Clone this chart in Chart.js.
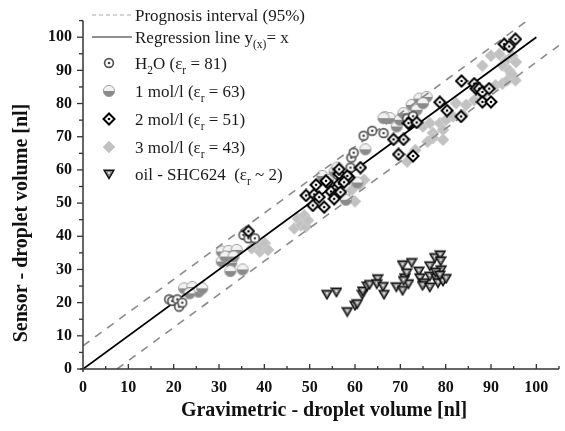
<!DOCTYPE html>
<html><head><meta charset="utf-8">
<script src="https://cdn.jsdelivr.net/npm/chart.js@4/dist/chart.umd.min.js"></script>
<style>html,body{margin:0;padding:0;background:#fff}#wrap{width:565px;height:431px;position:relative}</style>
</head><body><div id="wrap"><canvas id="c" width="565" height="431"></canvas></div>
<script>
// ---------- DATA ----------
const xTickValues = [0,10,20,30,40,50,60,70,80,90,100];
const yTickValues = [0,10,20,30,40,50,60,70,80,90,100];
const xAxisTitle = 'Gravimetric - droplet volume [nl]';
const yAxisTitle = 'Sensor - droplet volume [nl]';

const h2o = [[19.0,21.0],[19.7,20.5],[20.8,21.0],[21.2,18.8],[21.9,20.0],
  [35.4,40.4],[36.5,39.4],[37.9,39.4],
  [56.2,58.5],[57.3,57.2],[59.0,60.7],[59.2,63.7],[59.7,65.2],
  [61.9,70.3],[63.8,71.8],[66.3,71.1],[71.5,75.5],[72.8,76.2]];
const mol1 = [[22.3,24.3],[24.1,24.7],[25.5,23.3],[26.3,24.3],[23.5,22.8],
  [30.6,35.4],[32.1,35.6],[33.9,35.9],[30.6,32.4],[32.7,32.0],[32.5,29.5],[35.2,30.0],[31.4,33.9],[33.2,33.9],
  [52.8,58.2],[54.0,57.0],[55.5,59.5],[56.1,60.7],[57.6,52.3],[58.0,51.0],[60.5,56.2],[62.3,66.2],
  [66.6,75.9],[67.7,75.6],[69.2,73.1],[69.9,75.1],[70.7,77.1],[72.5,79.6],[73.6,78.1],[74.2,81.5],[75.8,82.0],[75.0,80.1],[66.3,75.6]];
const mol2 = [[36.5,41.5],
  [49.2,52.3],[51.0,52.6],[51.4,55.5],[54.7,53.5],[56.5,58.8],[56.5,55.8],[58.7,57.7],[61.2,60.7],[53.9,56.2],[56.5,60.2],
  [58.3,58.2],[55.7,52.4],[53.6,56.7],[56.8,53.3],[55.4,51.3],[52.1,51.8],[50.7,49.3],[53.2,48.8],[57.6,56.3],
  [69.6,64.7],[72.8,64.2],[72.0,73.9],[70.7,69.2],[68.5,69.2],[71.8,74.1],[73.6,74.3],[78.7,80.4],[80.3,77.9],
  [83.5,86.8],[86.3,86.0],[86.7,84.5],[87.4,84.5],[88.1,83.5],[89.6,84.5],[88.1,80.5],[90.0,80.5],[83.4,76.1],
  [92.9,97.9],[94.0,97.2],[95.4,99.4]];
const mol3 = [[37.2,36.4],[38.3,38.4],[39.0,35.4],[39.4,36.9],[40.1,37.9],[40.8,35.9],
  [46.6,42.4],[47.4,45.3],[48.1,43.3],[48.8,46.3],[49.2,42.9],[49.6,44.8],
  [57.5,52.0],[59.3,54.0],[61.0,55.5],[60.0,50.5],[62.0,57.0],
  [71.5,62.5],[72.5,64.5],[73.3,66.0],
  [75.0,73.1],[76.5,74.1],[77.2,71.1],[78.7,74.1],[79.4,72.1],[80.1,75.1],[81.6,76.1],[77.2,69.6],[79.4,69.1],[76.0,68.5],
  [82.3,80.1],[83.8,76.6],[84.5,79.6],[86.3,81.0],[88.1,82.5],[88.9,84.0],[91.0,85.5],[92.5,86.0],[93.6,87.0],[95.4,87.0],
  [88.1,91.4],[90.0,94.4],[91.8,94.9],[93.2,92.9],[94.7,94.4],[94.0,90.0],[92.5,91.5],[95.5,92.5],[94.5,89.0]];
const oil = [[53.8,22.5],[55.9,23.2],[58.3,17.3],[60.0,19.2],[60.5,19.7],[61.6,22.5],[61.7,23.5],[62.7,25.0],[63.2,25.5],
  [65.0,27.2],[64.8,25.7],[66.2,24.9],[66.4,22.5],[69.1,24.8],[70.5,31.4],[72.5,32.1],[70.5,23.7],[71.0,27.5],[71.4,29.0],
  [71.8,25.7],[70.7,26.7],[74.1,29.5],[74.3,27.5],[75.2,26.0],[74.9,25.2],[76.5,31.1],[77.6,33.6],[78.8,34.4],[78.9,32.6],
  [76.5,24.7],[76.5,28.0],[77.9,27.5],[78.3,26.0],[79.0,29.9],[79.4,26.5],[80.1,27.3],[77.8,29.2],[78.7,28.3]];
const regressionLine = [[0,0],[100,100]];
const upperBound = [[0,7],[98,105]];
const lowerBound = [[7.5,0],[105,97.5]];

const legendRows = [
  {kind:'dash',  parts:[['Prognosis interval (95%)','n']]},
  {kind:'solid', parts:[['Regression line y','n'],['(x)','s'],['= x','n']]},
  {kind:'h2o',   parts:[['H','n'],['2','s'],['O (ε','n'],['r','s'],[' = 81)','n']]},
  {kind:'mol1',  parts:[['1 mol/l (ε','n'],['r','s'],[' = 63)','n']]},
  {kind:'mol2',  parts:[['2 mol/l (ε','n'],['r','s'],[' = 51)','n']]},
  {kind:'mol3',  parts:[['3 mol/l (ε','n'],['r','s'],[' = 43)','n']]},
  {kind:'oil',   parts:[['oil - SHC624  (ε','n'],['r','s'],[' ~ 2)','n']]}
];

// ---------- MARKERS ----------
function mk(w,h,draw){const c=document.createElement('canvas');c.width=w;c.height=h;const g=c.getContext('2d');g.translate(w/2,h/2);draw(g);return c;}
const markers = {
  h2o: mk(12,12,g=>{g.beginPath();g.arc(0,0,4.4,0,Math.PI*2);g.fillStyle='#fff';g.fill();g.lineWidth=1.7;g.strokeStyle='#555';g.stroke();
        g.beginPath();g.arc(0,0,1.3,0,Math.PI*2);g.fillStyle='#444';g.fill();}),
  mol1: mk(14,14,g=>{g.beginPath();g.arc(0,0,5.6,Math.PI,0);g.closePath();g.fillStyle='#f2f2f2';g.fill();
        g.beginPath();g.arc(0,0,5.6,0,Math.PI);g.closePath();g.fillStyle='#8a8a8a';g.fill();
        g.beginPath();g.arc(0,0,5.6,0,Math.PI*2);g.lineWidth=0.9;g.strokeStyle='#9a9a9a';g.stroke();}),
  mol2: mk(14,14,g=>{g.beginPath();g.moveTo(0,-5.5);g.lineTo(5.5,0);g.lineTo(0,5.5);g.lineTo(-5.5,0);g.closePath();g.fillStyle='#fff';g.fill();
        g.lineWidth=2;g.strokeStyle='#000';g.stroke();g.beginPath();g.arc(0,0,1.3,0,Math.PI*2);g.fillStyle='#000';g.fill();}),
  mol3: mk(14,14,g=>{g.beginPath();g.moveTo(0,-6);g.lineTo(6,0);g.lineTo(0,6);g.lineTo(-6,0);g.closePath();g.fillStyle='#c2c2c2';g.fill();
        g.lineWidth=1;g.strokeStyle='#cfcfcf';g.stroke();}),
  oil: mk(12,12,g=>{g.beginPath();g.moveTo(-4.8,-3.7);g.lineTo(4.8,-3.7);g.lineTo(0,4.5);g.closePath();g.fillStyle='#8c8c8c';g.fill();
        g.lineWidth=1.4;g.strokeStyle='#111';g.stroke();g.beginPath();g.arc(0,-1,1.1,0,Math.PI*2);g.fillStyle='#eee';g.fill();})
};

const pts = a => a.map(p=>({x:p[0],y:p[1]}));
const SERIF = '"Liberation Serif", "Times New Roman", serif';

function scatterSet(label,data,marker,order){
  return {type:'scatter',label,data:pts(data),pointStyle:marker,pointRadius:5,pointHoverRadius:5,order};
}
function lineSet(label,data,color,width,dash,order){
  return {type:'line',label,data:pts(data),borderColor:color,borderWidth:width,borderDash:dash,pointRadius:0,fill:false,order};
}

const axesPlugin = {
  id:'axesPlugin',
  afterDraw(chart){
    const ctx=chart.ctx, xs=chart.scales.x, ys=chart.scales.y, a=chart.chartArea;
    ctx.save();
    ctx.strokeStyle='#333';ctx.lineWidth=1.5;
    ctx.beginPath();ctx.moveTo(a.left,a.top);ctx.lineTo(a.left,a.bottom+3);ctx.stroke();
    ctx.beginPath();ctx.moveTo(a.left-3,a.bottom);ctx.lineTo(a.right,a.bottom);ctx.stroke();
    ctx.lineWidth=1.3;
    for(let v=0;v<=105;v+=5){
      const py=ys.getPixelForValue(v), len=(v%10===0)?6:4;
      ctx.beginPath();ctx.moveTo(a.left-len,py);ctx.lineTo(a.left,py);ctx.stroke();
      const px=xs.getPixelForValue(v), l2=(v%10===0)?5:3;
      if(v>0){ctx.beginPath();ctx.moveTo(px,a.bottom);ctx.lineTo(px,a.bottom-l2);ctx.stroke();}
    }
    // titles
    ctx.fillStyle='#111';ctx.font='bold 20px '+SERIF;ctx.textAlign='center';ctx.textBaseline='middle';
    ctx.fillText(xAxisTitle,324,411);
    ctx.save();ctx.translate(22,223);ctx.rotate(-Math.PI/2);ctx.fillText(yAxisTitle,0,0);ctx.restore();
    // legend
    const rowY=[15,37,63,91,119,147,174];
    ctx.textAlign='left';ctx.textBaseline='alphabetic';ctx.fillStyle='#1a1a1a';
    legendRows.forEach((r,i)=>{
      const y=rowY[i];
      if(r.kind==='dash'){ctx.strokeStyle='#aaa';ctx.lineWidth=1;ctx.setLineDash([4,3]);ctx.beginPath();ctx.moveTo(92,y);ctx.lineTo(132,y);ctx.stroke();ctx.setLineDash([]);}
      else if(r.kind==='solid'){ctx.strokeStyle='#222';ctx.lineWidth=1.2;ctx.beginPath();ctx.moveTo(92,y);ctx.lineTo(132,y);ctx.stroke();}
      else {const m=markers[r.kind];ctx.drawImage(m,109-m.width/2,y-m.height/2);}
      let x=135;
      r.parts.forEach(([t,k])=>{
        if(k==='n'){ctx.font='17px '+SERIF;ctx.fillText(t,x,y+6);}
        else{ctx.font='11.5px '+SERIF;ctx.fillText(t,x,y+10.5);}
        x+=ctx.measureText(t).width;
      });
    });
    ctx.restore();
  }
};

new Chart(document.getElementById('c'),{
  type:'scatter',
  data:{datasets:[
    scatterSet('3 mol/l (εr = 43)',mol3,markers.mol3,6),
    scatterSet('1 mol/l (εr = 63)',mol1,markers.mol1,5),
    lineSet('Prognosis interval upper',upperBound,'#8a8a8a',1.6,[8,7],4),
    lineSet('Prognosis interval lower',lowerBound,'#8a8a8a',1.6,[8,7],4),
    lineSet('Regression line',regressionLine,'#000',1.8,[],4),
    scatterSet('H2O (εr = 81)',h2o,markers.h2o,3),
    scatterSet('2 mol/l (εr = 51)',mol2,markers.mol2,2),
    scatterSet('oil - SHC624 (εr ~ 2)',oil,markers.oil,1)
  ]},
  options:{
    responsive:false,animation:false,devicePixelRatio:1,
    layout:{padding:{top:16,right:1,left:0,bottom:0}},
    plugins:{legend:{display:false},tooltip:{enabled:false}},
    scales:{
      x:{type:'linear',min:0,max:105,grid:{display:false,drawTicks:false},border:{display:false},
         ticks:{color:'#111',font:{family:SERIF,size:16,weight:'bold'},padding:9,maxRotation:0},
         afterBuildTicks:s=>{s.ticks=xTickValues.map(v=>({value:v}));},
         afterFit:s=>{s.height=62;}},
      y:{type:'linear',min:0,max:105,grid:{display:false,drawTicks:false},border:{display:false},
         ticks:{color:'#111',font:{family:SERIF,size:16,weight:'bold'},padding:11},
         afterBuildTicks:s=>{s.ticks=yTickValues.map(v=>({value:v}));},
         afterFit:s=>{s.width=83;}}
    }
  },
  plugins:[axesPlugin]
});
</script></body></html>
